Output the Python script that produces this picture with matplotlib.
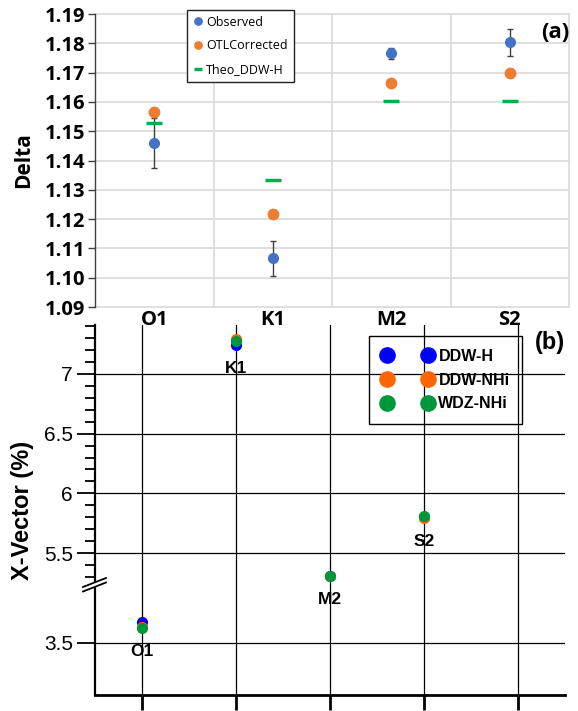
import numpy as np
import matplotlib.pyplot as plt
from matplotlib.lines import Line2D
from matplotlib.ticker import MultipleLocator, FormatStrFormatter

# tidal constituents shared by both panels
constituents = ['O1', 'K1', 'M2', 'S2']

# panel (a): gravimetric factor delta
delta_observed = [1.1459, 1.1066, 1.1766, 1.1803]
delta_observed_err = [0.0086, 0.0059, 0.0019, 0.0047]
delta_otl = [1.1566, 1.1217, 1.1666, 1.1698]
delta_theo = [1.1527, 1.1335, 1.1602, 1.1602]

# panel (b): X-vector in percent
xvec_ddw_h = [3.676, 7.243, 5.310, 5.800]
xvec_ddw_nhi = [3.630, 7.290, 5.305, 5.796]
xvec_wdz_nhi = [3.626, 7.276, 5.310, 5.810]
xvec_labels = ['DDW-H', 'DDW-NHi', 'WDZ-NHi']

W, H = 578, 711
fig = plt.figure(figsize=(W / 100, H / 100), dpi=100)


def box(l, t, r, b):
    return [l / W, 1 - b / H, (r - l) / W, (b - t) / H]


bold_a = dict(family='Open Sans', weight='bold')
arial = 'Liberation Sans'

# ---------------- panel (a) ----------------
ax_a = fig.add_axes(box(95, 14, 569, 307))
x_a = np.arange(len(constituents)) + 0.5
blue_a, orange_a, green_a = '#4472c4', '#ed7d31', '#00b050'

ax_a.errorbar(x_a, delta_observed, yerr=delta_observed_err, fmt='none',
              ecolor='#404040', elinewidth=1, capsize=2.5, capthick=1, zorder=3)
ax_a.plot(x_a, delta_observed, 'o', color=blue_a, ms=7, zorder=4)
ax_a.plot(x_a, delta_otl, 'o', color=orange_a, ms=7.5, zorder=4)
ax_a.plot(x_a, delta_theo, '_', color=green_a, ms=12, mew=2.5, zorder=5)

ax_a.set_xlim(0, len(constituents))
ax_a.set_ylim(1.09, 1.19)
yticks_a = np.arange(1.09, 1.1901, 0.01)
ax_a.set_yticks(yticks_a)
ax_a.yaxis.set_major_formatter(FormatStrFormatter('%.2f'))
ax_a.set_xticks(x_a, constituents)
ax_a.tick_params(axis='x', length=0, pad=2)
ax_a.tick_params(axis='y', length=5, width=1, color='#404040', pad=2)
for lab in ax_a.get_xticklabels() + ax_a.get_yticklabels():
    lab.set_fontfamily('Open Sans')
    lab.set_fontweight('bold')
    lab.set_fontsize(14.5)
# light grid, drawn explicitly
for yv in yticks_a:
    ax_a.axhline(yv, color='#d9d9d9', lw=1.2, zorder=1, clip_on=False)
for xv in range(1, len(constituents) + 1):
    ax_a.axvline(xv, color='#d9d9d9', lw=1.2, zorder=1, clip_on=False)
for s in ('top', 'right', 'bottom'):
    ax_a.spines[s].set_visible(False)
ax_a.spines['left'].set_color('#404040')
ax_a.spines['left'].set_linewidth(1)

handles_a = [
    Line2D([], [], marker='o', ls='none', color=blue_a, ms=7),
    Line2D([], [], marker='o', ls='none', color=orange_a, ms=7),
    Line2D([], [], marker='_', ls='none', color=green_a, ms=8, mew=2.5),
]
leg_a = ax_a.legend(handles_a, ['Observed', 'OTLCorrected', 'Theo_DDW-H'],
                    loc='upper left', bbox_to_anchor=(187 / W, 1 - 10 / H),
                    bbox_transform=fig.transFigure, borderaxespad=0,
                    fancybox=False, edgecolor='#222222', framealpha=1,
                    markerscale=0.75, handlelength=0.9, handletextpad=0.2,
                    labelspacing=0.85, borderpad=0.45,
                    prop=dict(family='Open Sans', size=9))
leg_a.get_frame().set_linewidth(1)
leg_a.set_zorder(10)
fig.text(24 / W, 1 - 160 / H, 'Delta', rotation=90, ha='center', va='center',
         fontsize=15, **bold_a)
fig.text(555 / W, 1 - 33 / H, '(a)', ha='center', va='center',
         fontsize=16, **bold_a)

# ---------------- panel (b), broken y axis ----------------
ax_b = fig.add_axes(box(95, 325, 565, 584))
ax_c = fig.add_axes(box(95, 584, 565, 695))
x_b = np.arange(1, len(constituents) + 1)
x_grid = np.arange(1, len(constituents) + 2)
colors_b = ['#0000ff', '#ff6600', '#00963c']
series_b = [xvec_ddw_h, xvec_ddw_nhi, xvec_wdz_nhi]

for ax in (ax_b, ax_c):
    ax.patch.set_visible(False)
    for vals, c in zip(series_b, colors_b):
        ax.plot(x_b, vals, 'o', color=c, ms=7, zorder=4)
    ax.set_xlim(0.5, len(constituents) + 1.5)
    ax.set_xticks(x_grid)
    ax.tick_params(axis='x', labelbottom=False)
    ax.grid(color='black', lw=0.9)
    ax.set_axisbelow(True)
    for s in ('top', 'right'):
        ax.spines[s].set_visible(False)
    ax.spines['left'].set_linewidth(1.6)
    ax.tick_params(axis='y', which='major', length=13, width=1.3, labelsize=15,
                   pad=3)
    ax.tick_params(axis='y', which='minor', length=7, width=1.3)

ax_b.set_ylim(5.241, 7.41)
ax_b.set_yticks([5.5, 6, 6.5, 7], ['5.5', '6', '6.5', '7'])
ax_b.yaxis.set_minor_locator(MultipleLocator(0.1))
ax_b.spines['bottom'].set_visible(False)
ax_b.tick_params(axis='x', length=0)

ax_c.set_ylim(3.064, 3.994)
ax_c.set_yticks([3.5], ['3.5'])
ax_c.spines['bottom'].set_linewidth(2)
ax_c.tick_params(axis='x', length=11, width=2)
for ax in (ax_b, ax_c):
    for lab in ax.get_yticklabels():
        lab.set_fontfamily(arial)

# constituent names under the points
for i, name in enumerate(constituents):
    low = min(v[i] for v in series_b)
    ax = ax_c if low < 4.5 else ax_b
    ax.annotate(name, (x_b[i], low), xytext=(0, -17), textcoords='offset points',
                ha='center', va='center', fontsize=12.5, fontweight='bold',
                family=arial, zorder=5)

# axis break marks
fig.add_artist(Line2D([86 / W, 104 / W], [1 - 588 / H, 1 - 581 / H],
                      transform=fig.transFigure, color='white', lw=3.5))
for dy in (0, 4.5):
    fig.add_artist(Line2D([83 / W, 106 / W],
                          [1 - (587 + dy) / H, 1 - (578 + dy) / H],
                          transform=fig.transFigure, color='black', lw=1.3))

handles_b = [Line2D([], [], marker='o', ls='none', color=c, ms=11)
             for c in colors_b]
leg_b = ax_b.legend(handles_b, xvec_labels, numpoints=2, loc='upper left',
                    bbox_to_anchor=(369 / W, 1 - 336 / H),
                    bbox_transform=fig.transFigure, borderaxespad=0,
                    fancybox=False, edgecolor='black', facecolor='none',
                    framealpha=1, handlelength=3.2, handletextpad=0.35,
                    labelspacing=0.55, borderpad=0.8,
                    prop=dict(family=arial, weight='bold', size=11.5))
leg_b.get_frame().set_linewidth(1)

fig.text(23 / W, 1 - 510 / H, 'X-Vector (%)', rotation=90, ha='center',
         va='center', fontsize=17, fontweight='bold', family=arial)
fig.text(550 / W, 1 - 343 / H, '(b)', ha='center', va='center',
         fontsize=17, fontweight='bold', family=arial)

fig.savefig('out.png', dpi=100)
